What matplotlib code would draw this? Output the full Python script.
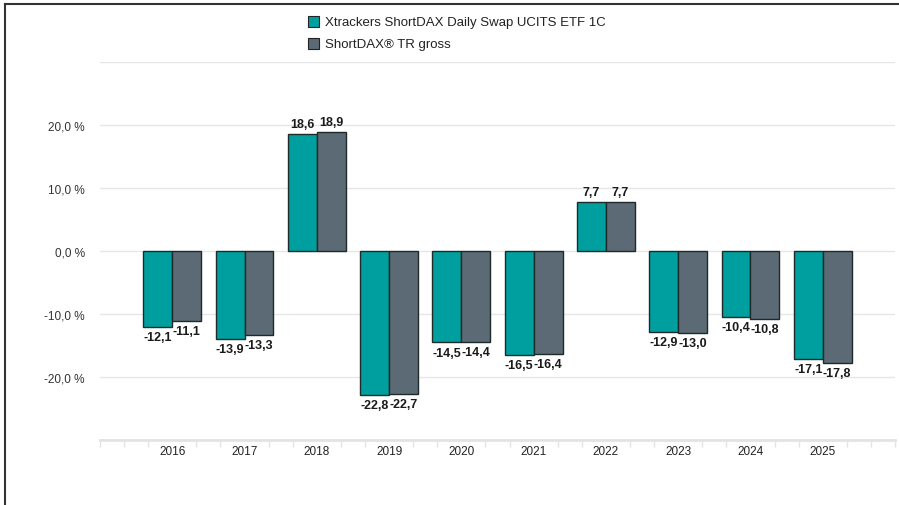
import matplotlib.pyplot as plt
from matplotlib.lines import Line2D
from matplotlib.patches import Rectangle
import numpy as np

years = ['2016', '2017', '2018', '2019', '2020', '2021', '2022', '2023', '2024', '2025']
fund = [-12.1, -13.9, 18.6, -22.8, -14.5, -16.5, 7.7, -12.9, -10.4, -17.1]
index = [-11.1, -13.3, 18.9, -22.7, -14.4, -16.4, 7.7, -13.0, -10.8, -17.8]
series_names = ['Xtrackers ShortDAX Daily Swap UCITS ETF 1C', 'ShortDAX® TR gross']
colors = ['#009f9f', '#5b6a74']

plt.rcParams['font.family'] = ['Liberation Sans', 'DejaVu Sans']

fig = plt.figure(figsize=(8.99, 5.06), dpi=100)
ax = fig.add_axes([100/899, 65/506, 795/899, 378/506])

x = np.arange(len(years))
w = 0.4
for vals, off, c in [(fund, -w/2, colors[0]), (index, w/2, colors[1])]:
    bars = ax.bar(x + off, vals, w, color=c, edgecolor='#1e2a2a', linewidth=1, zorder=3)
    for b, v in zip(bars, vals):
        txt = ('%.1f' % v).replace('.', ',')
        if v >= 0:
            ax.annotate(txt, (b.get_x() + b.get_width()/2, v), xytext=(0, 3),
                        textcoords='offset points', ha='center', va='bottom',
                        fontsize=9, fontweight='bold', color='#1a1a1a')
        else:
            ax.annotate(txt, (b.get_x() + b.get_width()/2, v), xytext=(0, -3),
                        textcoords='offset points', ha='center', va='top',
                        fontsize=9, fontweight='bold', color='#1a1a1a')

ax.set_xlim(-1, 10)
ax.set_ylim(-30, 30)
ax.set_yticks([-30, -20, -10, 0, 10, 20, 30])
ax.set_yticklabels(['', '-20,0 %', '-10,0 %', '0,0 %', '10,0 %', '20,0 %', ''])
ax.grid(axis='y', color='#e6e6e6', linewidth=1, zorder=0)
ax.tick_params(axis='y', length=0, labelsize=8.5, labelcolor='#333333', pad=11)

ticks = [-1, -2/3] + [t for i in x for t in (i - 1/3, i + 1/3)] + [29/3, 10]
ax.set_xticks(ticks)
ax.set_xticklabels([''] * len(ticks))
ax.tick_params(axis='x', length=5, color='#e3e3e3', width=1)
for i, y in zip(x, years):
    ax.text(i, -30.8, y, ha='center', va='top', fontsize=8.5, color='#222222')

for s in ['top', 'right', 'left']:
    ax.spines[s].set_visible(False)
ax.spines['bottom'].set_color('#e3e3e3')
ax.spines['bottom'].set_linewidth(2)

# legend at the top
for j, (name, c) in enumerate(zip(series_names, colors)):
    yy = 1 - (23 + j*22)/506
    fig.add_artist(Rectangle((308/899, yy - 5/506), 11/899, 11/506,
                             facecolor=c, edgecolor='#222222', linewidth=0.8))
    fig.text(325/899, yy, name, ha='left', va='center', fontsize=9.5, color='#222222')

# frame lines
fig.add_artist(Line2D([5/899, 5/899], [0, 1 - 5/506], color='#333333', linewidth=1.5))
fig.add_artist(Line2D([5/899, 1], [1 - 5/506, 1 - 5/506], color='#333333', linewidth=1.5))

plt.savefig('out.png', dpi=100)
